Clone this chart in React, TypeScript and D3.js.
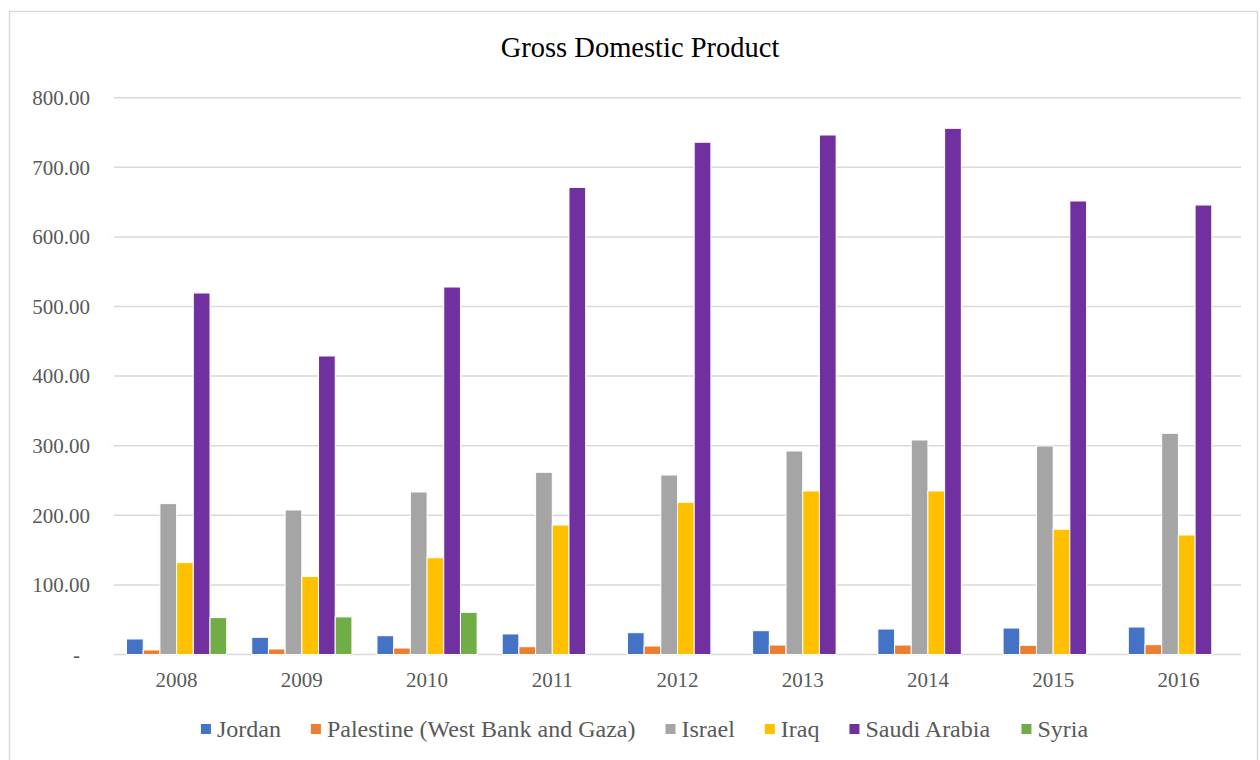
import React from "react";
import * as d3 from "d3";

const years = ["2008", "2009", "2010", "2011", "2012", "2013", "2014", "2015", "2016"];
const seriesNames = ["Jordan", "Palestine (West Bank and Gaza)", "Israel", "Iraq", "Saudi Arabia", "Syria"];
const seriesColors = ["#4472C4", "#ED7D31", "#A5A5A5", "#FFC000", "#7030A0", "#70AD47"];

const jordan = [22.3, 24.7, 27.0, 29.5, 31.3, 34.2, 36.6, 38.0, 39.5];
const palestine = [6.5, 7.9, 9.3, 11.2, 12.2, 13.6, 13.6, 13.2, 14.1];
const israel = [216.8, 207.6, 233.5, 261.8, 257.9, 292.4, 308.2, 299.6, 317.8];
const iraq = [132.0, 112.0, 139.0, 186.0, 218.7, 235.0, 235.0, 180.0, 171.7];
const saudi = [519.4, 428.9, 528.0, 671.0, 736.0, 746.4, 756.0, 651.6, 645.8];
const syria: (number | null)[] = [53.0, 54.0, 60.6, null, null, null, null, null, null];

const yTicks = [0, 100, 200, 300, 400, 500, 600, 700, 800];

const seriesValues = [jordan, palestine, israel, iraq, saudi, syria];

const FONT = "'Liberation Serif', 'Times New Roman', serif";
const TEXT = "#595959";

function measure(text: string, size: number) {
  if (typeof document === "undefined") return text.length * size * 0.5;
  const c = document.createElement("canvas");
  const ctx = c.getContext("2d")!;
  ctx.font = `${size}px ${FONT}`;
  return ctx.measureText(text).width;
}

export default function App() {
  const left = 114;
  const right = 1241;
  const top = 97.7;
  const bottom = 654.5;

  const x0 = d3.scaleBand<string>().domain(years).range([left, right]).padding(0);
  const x1 = d3
    .scaleBand<number>()
    .domain(d3.range(seriesNames.length))
    .range([0, x0.bandwidth()])
    .paddingInner(0)
    .paddingOuter(0.75);
  const y = d3.scaleLinear().domain([0, 800]).range([bottom, top]);

  // legend layout
  const legendFont = 24;
  const marker = 10;
  const markerGap = 6;
  const itemGap = 30;
  const widths = seriesNames.map((n) => marker + markerGap + measure(n, legendFont));
  const totalW = d3.sum(widths) + itemGap * (widths.length - 1);
  let lx = 644.5 - totalW / 2;
  const legendItems = seriesNames.map((n, i) => {
    const item = { name: n, x: lx, color: seriesColors[i] };
    lx += widths[i] + itemGap;
    return item;
  });
  const legendY = 729;

  return (
    <svg
      width={1260}
      height={760}
      style={{ position: "absolute", left: 0, top: 0, background: "#fff" }}
      fontFamily={FONT}
    >
      <rect x={9.5} y={11.5} width={1248} height={760} fill="#fff" stroke="#D9D9D9" strokeWidth={1.5} />
      <text x={640} y={57} textAnchor="middle" fontSize={28.5} fill="#000">
        Gross Domestic Product
      </text>
      {yTicks.map((t) => (
        <g key={t}>
          <line x1={left} x2={right} y1={y(t)} y2={y(t)} stroke="#D9D9D9" strokeWidth={1.5} />
          <text
            x={t === 0 ? 80 : 90}
            y={y(t)}
            dy="0.35em"
            textAnchor="end"
            fontSize={21}
            fill={TEXT}
          >
            {t === 0 ? "-" : d3.format(".2f")(t)}
          </text>
        </g>
      ))}
      {years.map((yr, gi) => (
        <g key={yr} transform={`translate(${x0(yr)},0)`}>
          {seriesValues.map((vals, si) => {
            const v = vals[gi];
            if (v === null || v === undefined) return null;
            return (
              <rect
                key={si}
                x={x1(si)}
                y={y(v)}
                width={x1.bandwidth()}
                height={y(0) - y(v)}
                fill={seriesColors[si]}
                stroke="#fff"
                strokeWidth={1}
              />
            );
          })}
          <text
            x={x0.bandwidth() / 2}
            y={680}
            dy="0.35em"
            textAnchor="middle"
            fontSize={21}
            fill={TEXT}
          >
            {yr}
          </text>
        </g>
      ))}
      {legendItems.map((it) => (
        <g key={it.name}>
          <rect x={it.x} y={legendY - 5} width={marker} height={marker} fill={it.color} />
          <text x={it.x + marker + markerGap} y={legendY} dy="0.35em" fontSize={legendFont} fill={TEXT}>
            {it.name}
          </text>
        </g>
      ))}
    </svg>
  );
}
